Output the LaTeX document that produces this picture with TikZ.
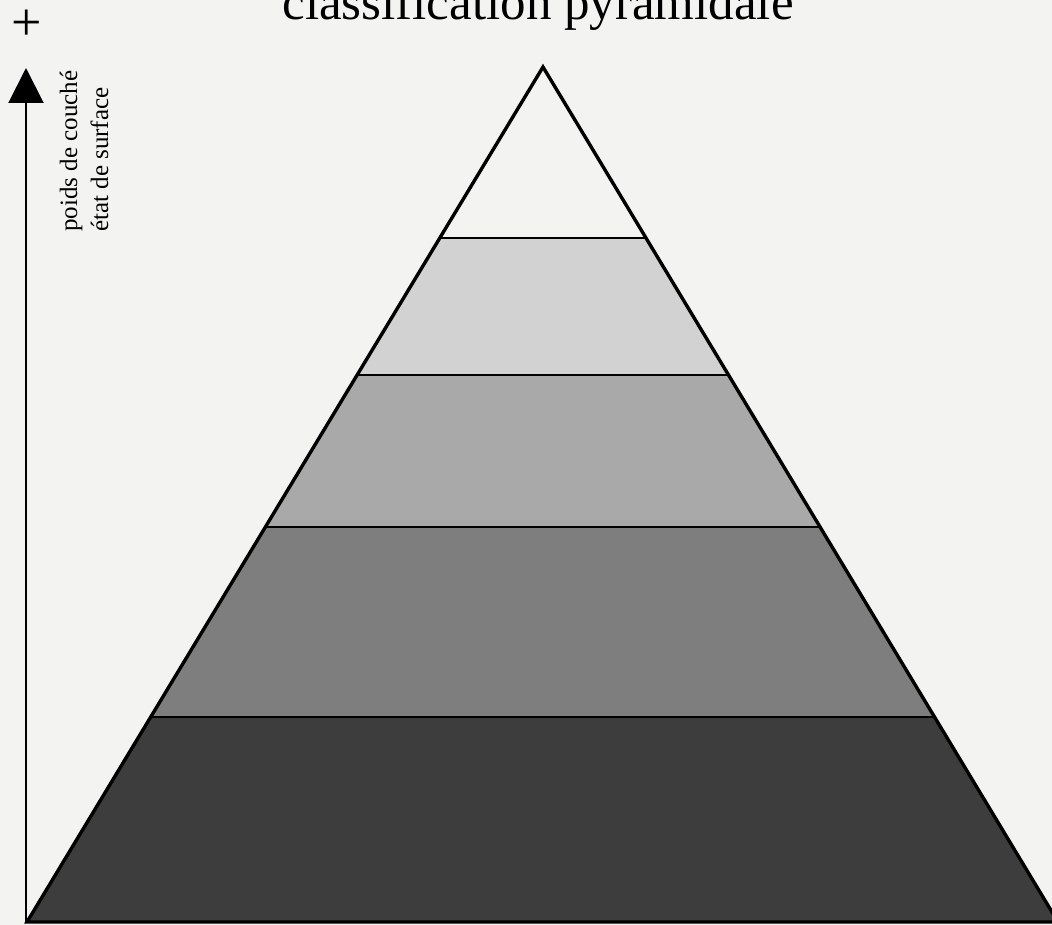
\documentclass[tikz,border=0pt]{standalone}
\usepackage{fontspec}
\setmainfont{Liberation Serif}
\usetikzlibrary{arrows.meta,calc}
\definecolor{Papier}{HTML}{F3F3F1}
\definecolor{GrisClair}{HTML}{D2D2D2}
\definecolor{GrisMoyen}{HTML}{A9A9A9}
\definecolor{GrisFonce}{HTML}{7E7E7E}
\definecolor{Sombre}{HTML}{3D3D3D}

\begin{document}
\begin{tikzpicture}[x=1pt,y=-1pt,every node/.style={inner sep=0pt},etiquette/.style={rotate=90,anchor=base west,font=\fontsize{25}{30}\selectfont}]
\useasboundingbox[fill=Papier] (0,0) rectangle (1052,925);
\coordinate (sommet) at (543,67);
\coordinate (bg) at (27,922);
\coordinate (bd) at (1058,922);
\coordinate (bas) at (26,922);
\coordinate (haut) at (26,68);
\foreach \a/\b/\c in {0.2/0.36/GrisClair,0.36/0.538/GrisMoyen,0.538/0.76/GrisFonce,0.76/1/Sombre}
  \fill[\c] ($(sommet)!\a!(bg)$) -- ($(sommet)!\a!(bd)$) -- ($(sommet)!\b!(bd)$) -- ($(sommet)!\b!(bg)$) -- cycle;
\foreach \a in {0.2,0.36,0.538,0.76}
  \draw[line width=1.8pt] ($(sommet)!\a!(bg)$) -- ($(sommet)!\a!(bd)$);
\draw[line width=3.4pt,line join=miter] (bg) -- (sommet) -- (bd) -- cycle;
\draw[line width=2pt,-{Triangle[width=35pt,length=35pt]}] (bas) -- (haut);
\node[font=\fontsize{54}{60}\selectfont] (plus) at (27,25) {+};
\node[etiquette] (poids) at (77,232) {poids de couché};
\node[etiquette] (etat) at (108,232) {état de surface};
\node[anchor=base,font=\fontsize{51}{60}\selectfont] (titre) at (538,20) {classification pyramidale};
\end{tikzpicture}
\end{document}
